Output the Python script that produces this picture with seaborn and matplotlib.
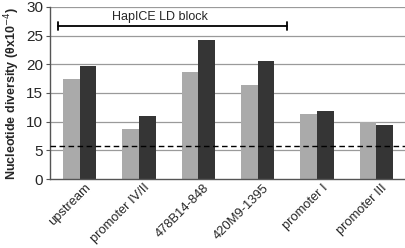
import matplotlib
matplotlib.use("Agg")
import matplotlib.pyplot as plt
import matplotlib.transforms as mtransforms
import seaborn as sns
import pandas as pd

regions = ["upstream", "promoter IV/II", "478B14-848", "420M9-1395", "promoter I", "promoter III"]
series_a = [17.5, 8.7, 18.7, 16.4, 11.3, 10.0]
series_b = [19.7, 11.0, 24.2, 20.6, 11.9, 9.4]
baseline = 5.7
block_label = "HapICE LD block"

df = pd.DataFrame({
    "region": regions * 2,
    "value": series_a + series_b,
    "group": ["a"] * len(regions) + ["b"] * len(regions),
})

sns.set_style("white")
plt.rcParams["font.family"] = ["Liberation Sans", "DejaVu Sans"]

fig = plt.figure(figsize=(4.06, 2.48), dpi=100)
ax = fig.add_axes([0.123, 0.278, 0.877, 0.694])

for y in range(5, 31, 5):
    ax.axhline(y, color="#9a9a9a", lw=0.9, zorder=0)

sns.barplot(data=df, x="region", y="value", hue="group",
            palette=["#aaaaaa", "#353535"], width=0.56, saturation=1,
            linewidth=0, legend=False, ax=ax, zorder=2)

ax.axhline(baseline, color="black", ls=(0, (4, 2.5)), lw=1.0, zorder=3)

# LD block bracket
x0, x1, yb = -0.37, 3.49, 26.7
ax.plot([x0, x1], [yb, yb], color="black", lw=1.3, zorder=4)
ax.plot([x0, x0], [yb - 0.7, yb + 0.7], color="black", lw=1.3, zorder=4)
ax.plot([x1, x1], [yb - 0.7, yb + 0.7], color="black", lw=1.3, zorder=4)
ax.text(1.35, 28.3, block_label, ha="center", va="center", fontsize=9)

ax.set_ylim(0, 30)
ax.set_xlim(-0.5, 5.5)
ax.set_yticks(range(0, 31, 5))
ax.set_xlabel("")
ax.set_ylabel("Nucleotide diversity (θx10$^{-4}$)", fontsize=9, fontweight="bold", labelpad=3)
ax.tick_params(axis="y", labelsize=11, length=3, color="#555555", pad=2, left=True)
ax.tick_params(axis="x", labelsize=9.3, length=0, pad=2)
offset = mtransforms.ScaledTranslation(5 / 100, 0, fig.dpi_scale_trans)
for lbl in ax.get_xticklabels():
    lbl.set_rotation(45)
    lbl.set_ha("right")
    lbl.set_rotation_mode("anchor")
    lbl.set_transform(lbl.get_transform() + offset)

for s in ["top", "right"]:
    ax.spines[s].set_visible(False)
for s in ["left", "bottom"]:
    ax.spines[s].set_color("#555555")
    ax.spines[s].set_linewidth(1.0)

fig.savefig("out.png", dpi=100)
